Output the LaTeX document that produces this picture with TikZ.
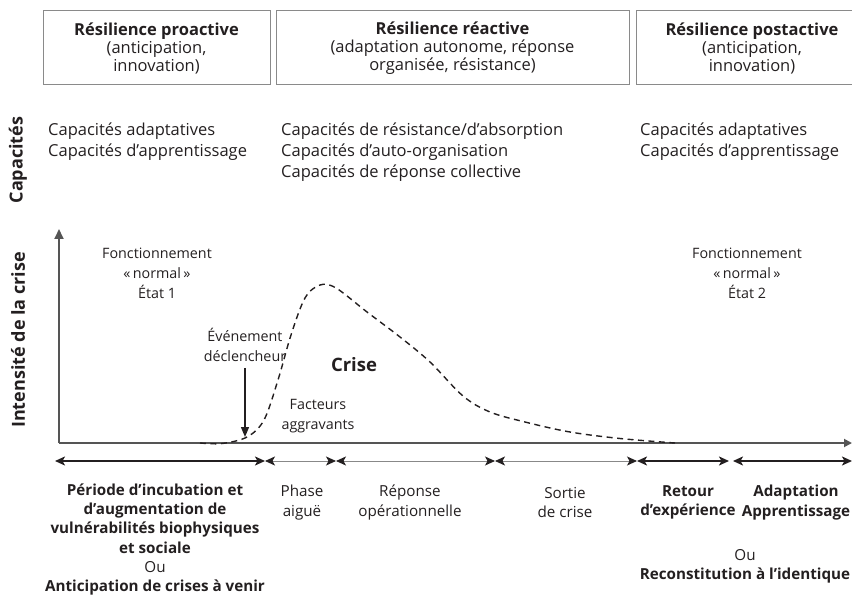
\documentclass[tikz,border=0pt]{standalone}
\usepackage{fontspec}
\setmainfont{Open Sans}
\usetikzlibrary{arrows.meta}
\definecolor{ink}{HTML}{231F20}
\definecolor{axisgray}{HTML}{555555}
\definecolor{boxgray}{HTML}{8A8A8A}
\begin{document}
\begin{tikzpicture}[x=1pt,y={(0pt,-1pt)},
  every node/.style={text=ink, inner sep=0pt, align=center},
  headbox/.style={draw=boxgray, line width=1pt, minimum height=74pt, font=\fontsize{16.5}{18}\selectfont},
  caplist/.style={anchor=west, align=left, font=\fontsize{16.5}{21}\selectfont},
  sidelabel/.style={rotate=90, font=\fontsize{18}{20}\bfseries},
  curvelabel/.style={font=\fontsize{14.3}{20}\selectfont},
  phaselabel/.style={font=\fontsize{15.2}{19.2}\selectfont},
  axisline/.style={draw=axisgray, line width=1.8pt},
  crisecurve/.style={draw=ink, line width=1.4pt, dash pattern=on 6pt off 4.5pt},
  thickseg/.style={draw=ink, line width=1.8pt, {Stealth[length=10pt,width=9pt,inset=2.5pt]}-{Stealth[length=10pt,width=9pt,inset=2.5pt]}},
  thinseg/.style={draw=axisgray!70, line width=0.9pt, {Stealth[length=10pt,width=9pt,inset=2.5pt,color=ink]}-{Stealth[length=10pt,width=9pt,inset=2.5pt,color=ink]}}
]
\useasboundingbox (0,0) rectangle (852,596);

% header boxes
\node[headbox, minimum width=227pt] (b1) at (156.5,48) {\textbf{Résilience proactive}\\(anticipation,\\innovation)};
\node[headbox, minimum width=353pt] (b2) at (452.5,48) {\textbf{Résilience réactive}\\(adaptation autonome, réponse\\organisée, résistance)};
\node[headbox, minimum width=232pt] (b3) at (752,48) {\textbf{Résilience postactive}\\(anticipation,\\innovation)};

% capacities
\node[sidelabel] (cap) at (18,160) {Capacités};
\node[caplist] (c1) at (48,142) {Capacités adaptatives\\Capacités d’apprentissage};
\node[caplist] (c2) at (281,152.5) {Capacités de résistance/d’absorption\\Capacités d’auto-organisation\\Capacités de réponse collective};
\node[caplist] (c3) at (640,142) {Capacités adaptatives\\Capacités d’apprentissage};

% axes
\node[sidelabel] (int) at (18,340) {Intensité de la crise};
\coordinate (O) at (59,443);
\coordinate (ytop) at (59,229);
\coordinate (xend) at (852,443);
\draw[axisline, -{Triangle[length=10pt,width=9pt]}] (O) -- (ytop);
\draw[axisline, -{Triangle[length=8pt,width=8pt]}] (O) -- (xend);

% crisis curve
\draw[crisecurve] plot[smooth, tension=0.55] coordinates {
  (200,443) (222,443.5) (247,437) (264,420) (278,380) (291,335) (305,298) (320,285) (336,288)
  (367,312) (400,337) (430,362) (463,396) (490,412) (525,422) (570,432) (620,438.5) (675,443)};

% curve labels
\node[curvelabel] (fn1) at (157,273) {Fonctionnement\\«\,normal\,»\\État 1};
\node[curvelabel] (fn2) at (747,273) {Fonctionnement\\«\,normal\,»\\État 2};
\node[curvelabel] (ev) at (245,345) {Événement\\déclencheur};
\coordinate (evtip) at (245,437);
\draw[draw=ink, line width=1.4pt, -{Triangle[length=10pt,width=8pt]}] ([yshift=-6pt]ev.south) -- (evtip);
\node[font=\fontsize{18.5}{20}\bfseries] (crise) at (354,365) {Crise};
\node[curvelabel] (fa) at (318,416) {Facteurs\\aggravants};

% timeline
\coordinate (t0) at (55,461);
\coordinate (t1) at (265,461);
\coordinate (t2) at (336,461);
\coordinate (t3) at (495,461);
\coordinate (t4) at (637,461);
\coordinate (t5a) at (729,461);
\coordinate (t5b) at (733,461);
\coordinate (t6) at (852,461);
\draw[thickseg] (t0) -- (t1);
\draw[thinseg] (t1) -- (t2);
\draw[thinseg] (t2) -- (t3);
\draw[thinseg] (t3) -- (t4);
\draw[thickseg] (t4) -- (t5a);
\draw[thickseg] (t5b) -- (t6);

% phase labels
\node[phaselabel] (p1) at (155,539.5) {\textbf{Période d’incubation et}\\\textbf{d’augmentation de}\\\textbf{vulnérabilités biophysiques}\\\textbf{et sociale}\\Ou\\\textbf{Anticipation de crises à venir}};
\node[phaselabel] (p2) at (302,502.5) {Phase\\aiguë};
\node[phaselabel] (p3) at (410,502.5) {Réponse\\opérationnelle};
\node[phaselabel] (p4) at (565,502.5) {Sortie\\de crise};
\node[phaselabel, font=\fontsize{15.2}{19.2}\bfseries] (p5) at (688,502.5) {Retour\\d’expérience};
\node[phaselabel, font=\fontsize{15.2}{19.2}\bfseries] (p6) at (796,502.5) {Adaptation\\Apprentissage};
\node[phaselabel] (p7) at (745,566) {Ou\\\textbf{Reconstitution à l’identique}};
\end{tikzpicture}
\end{document}
